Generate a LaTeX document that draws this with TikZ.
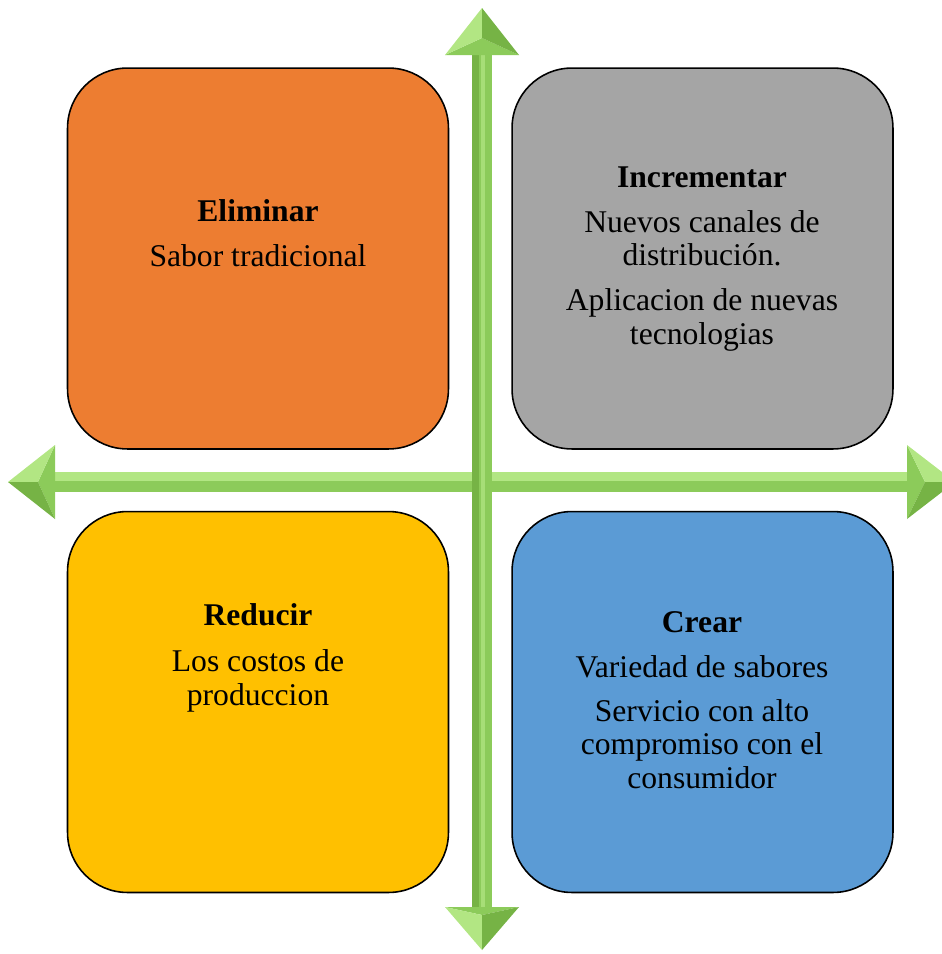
\documentclass[tikz,border=0pt]{standalone}
\usepackage{fontspec}
\setmainfont{Liberation Serif}
\usetikzlibrary{positioning, calc}
\definecolor{elimOrange}{HTML}{ED7D31}
\definecolor{incGray}{HTML}{A5A5A5}
\definecolor{redYellow}{HTML}{FFC000}
\definecolor{crearBlue}{HTML}{5B9BD5}
\definecolor{axisGreen}{HTML}{8CCB5A}
\definecolor{axisLight}{HTML}{B2E683}
\definecolor{axisDark}{HTML}{76B345}
\tikzset{quad/.style={rectangle, rounded corners=1.2cm, draw=black, line width=0.9pt, minimum width=7.62cm, minimum height=7.62cm, inner sep=0pt},
	quad text/.style={align=center, anchor=base, inner sep=0pt, font=\fontsize{18}{18.8}\selectfont},}

\begin{document}
\begin{tikzpicture}[x=0.02cm, y=-0.02cm]
		\useasboundingbox (0,0) rectangle (941,954);
		% Quadrants
		\node[quad, fill=elimOrange] (elim) at (258,258.5) {};
		\node[quad, fill=incGray] (inc) at (702.5,258.5) {};
		\node[quad, fill=redYellow] (red) at (258,702) {};
		\node[quad, fill=crearBlue] (crear) at (702.5,702) {};
		% Texts (anchored at the baseline of the last line)
		\node[quad text] (elimT) at (258,266) {\textbf{Eliminar}\\[0.22cm] Sabor tradicional};
		\node[quad text] (incT) at (702,344) {\textbf{Incrementar}\\[0.24cm] Nuevos canales de\\ distribución.\\[0.24cm] Aplicacion de nuevas\\ tecnologias};
		\node[quad text] (redT) at (258,705) {\textbf{Reducir}\\[0.26cm] Los costos de\\ produccion};
		\node[quad text] (crearT) at (702,788) {\textbf{Crear}\\[0.24cm] Variedad de sabores\\[0.22cm] Servicio con alto\\ compromiso con el\\ consumidor};
		% Axes
		\coordinate (Lt) at (8,482); \coordinate (La) at (55,445); \coordinate (Lb) at (55,519); \coordinate (Lv) at (38,482);
		\coordinate (Rt) at (955,482); \coordinate (Ra) at (907,445); \coordinate (Rb) at (907,519); \coordinate (Rv) at (925,482);
		\coordinate (Ut) at (482,8); \coordinate (Ua) at (445,55); \coordinate (Ub) at (519,55); \coordinate (Uv) at (482,38);
		\coordinate (Dt) at (482,950); \coordinate (Da) at (445,907); \coordinate (Db) at (519,907); \coordinate (Dv) at (482,915);
		\fill[axisGreen] (55,472) rectangle (907,492);
		\fill[axisLight] (55,472) rectangle (907,481);
		\fill[axisGreen] (472,55) rectangle (492,907);
		\fill[axisDark] (472,55) rectangle (479,907);
		\fill[axisLight!70!axisGreen] (481,55) rectangle (485,907);
		\foreach \h in {L,R,U,D} {
			\fill[axisGreen] (\h a) -- (\h v) -- (\h b) -- cycle;
			\fill[axisLight] (\h t) -- (\h a) -- (\h v) -- cycle;
			\fill[axisDark] (\h t) -- (\h b) -- (\h v) -- cycle;
		}
	\end{tikzpicture}
\end{document}
